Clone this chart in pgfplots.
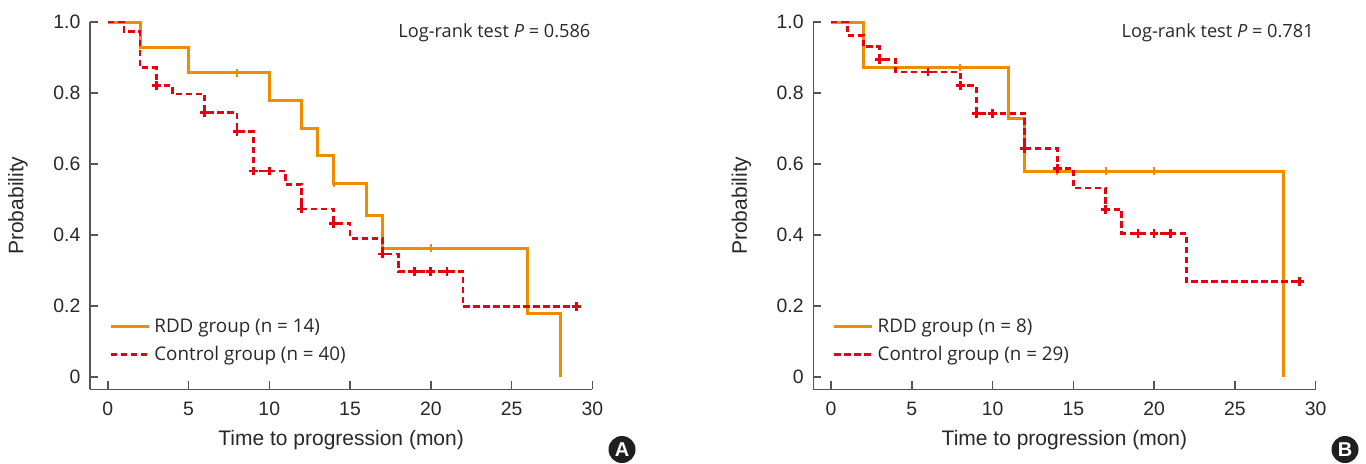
\documentclass[border=0pt]{standalone}
\usepackage{pgfplots}
\pgfplotsset{compat=1.18}
\usepackage{fontspec}
\setmainfont{Liberation Sans}
\newfontfamily\osans{Open Sans}
\definecolor{rdd}{RGB}{240,138,0}
\definecolor{ctl}{RGB}{230,0,18}
\definecolor{axgray}{RGB}{85,85,85}
\definecolor{txt}{RGB}{40,40,40}
\pgfplotsset{kmaxis/.style={
  scale only axis, width=251.15pt, height=183.65pt,
  xmin=-1.1, xmax=30, ymin=-0.035, ymax=1.0,
  axis x line*=bottom, axis y line*=left,
  axis line style={axgray, line width=0.75pt},
  tick align=inside, major tick length=4pt,
  tick style={axgray, line width=0.75pt},
  xtick={0,5,...,30}, ytick={0,0.2,0.4,0.6,0.8,1.0},
  yticklabels={0,0.2,0.4,0.6,0.8,1.0},
  /pgf/number format/assume math mode=true,
  ticklabel style={font=\fontsize{9.7}{11}\selectfont, text=txt},
  xticklabel style={yshift=-3pt},
  yticklabel style={xshift=-1.3pt},
  xlabel={Time to progression (mon)}, ylabel={Probability},
  label style={font=\fontsize{10.5}{12}\selectfont, text=txt},
  xlabel style={at={(axis description cs:0.5,-0.138)}, anchor=center},
  ylabel style={at={(axis description cs:-0.1433,0.5)}, anchor=center},
  clip=false,
  legend style={draw=none, fill=none, inner sep=0pt, row sep=1.5pt,
    at={(axis description cs:0.0378,0.1315)}, anchor=west,
    font=\osans\fontsize{9.4}{10}\selectfont, text=txt},
  legend cell align=left,
  legend image code/.code={\draw[#1] (0pt,0pt) -- (19pt,0pt);},
}}
\tikzset{
  rddline/.style={rdd, line width=1.5pt},
  ctlline/.style={ctl, line width=1.4pt, dash pattern=on 3.2pt off 1.8pt},
  rddcens/.style={only marks, mark=|, mark size=1.9pt, mark options={rdd, line width=1pt, solid}},
  ctlcens/.style={only marks, mark=+, mark size=2.2pt, mark options={ctl, line width=1.4pt, solid}},
}
\begin{document}
\begin{tikzpicture}
\useasboundingbox (0,0) rectangle (683pt,231.5pt);
% ---------------- Panel A ----------------
\begin{axis}[kmaxis, at={(45pt,36.85pt)}, anchor=south west]
\addplot[rddline, const plot] coordinates {(0,1) (2,0.929) (5,0.857) (10,0.779) (12,0.701) (13,0.623) (14,0.545) (16,0.454) (17,0.363) (26,0.18) (28,0.18) (28,0)};
\addlegendentry{RDD group (n = 14)}
\addplot[rddcens, forget plot] coordinates {(8,0.857) (14,0.545) (20,0.363)};
\addplot[ctlline, const plot] coordinates {(0,1) (1,0.973) (2,0.871) (3,0.82) (4,0.797) (6,0.745) (8,0.691) (9,0.58) (11,0.543) (12,0.473) (14,0.433) (15,0.391) (17,0.346) (18,0.297) (22,0.198) (29,0.198)};
\addlegendentry{Control group (n = 40)}
\addplot[ctlcens, forget plot] coordinates {(3,0.82) (6,0.745) (8,0.691) (9,0.58) (10,0.58) (12,0.473) (14,0.433) (17,0.346) (19,0.297) (20,0.297) (21,0.297) (29,0.198)};
\node[anchor=east, inner sep=0pt, font=\osans\fontsize{9.1}{10}\selectfont, text=txt] at (rel axis cs:0.997,0.971) {Log-rank test \textit{P} = 0.586};
\end{axis}
% ---------------- Panel B ----------------
\begin{axis}[kmaxis, at={(406.65pt,36.85pt)}, anchor=south west]
\addplot[rddline, const plot] coordinates {(0,1) (2,0.872) (11,0.727) (12,0.58) (28,0.58) (28,0)};
\addlegendentry{RDD group (n = 8)}
\addplot[rddcens, forget plot] coordinates {(8,0.872) (14,0.58) (17,0.58) (20,0.58)};
\addplot[ctlline, const plot] coordinates {(0,1) (1,0.963) (2,0.93) (3,0.895) (4,0.859) (8,0.82) (9,0.742) (12,0.644) (14,0.588) (15,0.532) (17,0.472) (18,0.405) (22,0.268) (29,0.268)};
\addlegendentry{Control group (n = 29)}
\addplot[ctlcens, forget plot] coordinates {(3,0.895) (6,0.859) (8,0.82) (9,0.742) (10,0.742) (12,0.644) (14,0.588) (17,0.472) (19,0.405) (20,0.405) (21,0.405) (29,0.268)};
\node[anchor=east, inner sep=0pt, font=\osans\fontsize{9.1}{10}\selectfont, text=txt] at (rel axis cs:0.997,0.971) {Log-rank test \textit{P} = 0.781};
\end{axis}
% panel letters
\fill[black!88] (311pt,6.75pt) circle (6.75pt);
\node[text=white, font=\bfseries\fontsize{10}{10}\selectfont, inner sep=0pt] at (311pt,6.75pt) {A};
\fill[black!88] (672.5pt,6.75pt) circle (6.75pt);
\node[text=white, font=\bfseries\fontsize{10}{10}\selectfont, inner sep=0pt] at (672.5pt,6.75pt) {B};
\end{tikzpicture}
\end{document}
